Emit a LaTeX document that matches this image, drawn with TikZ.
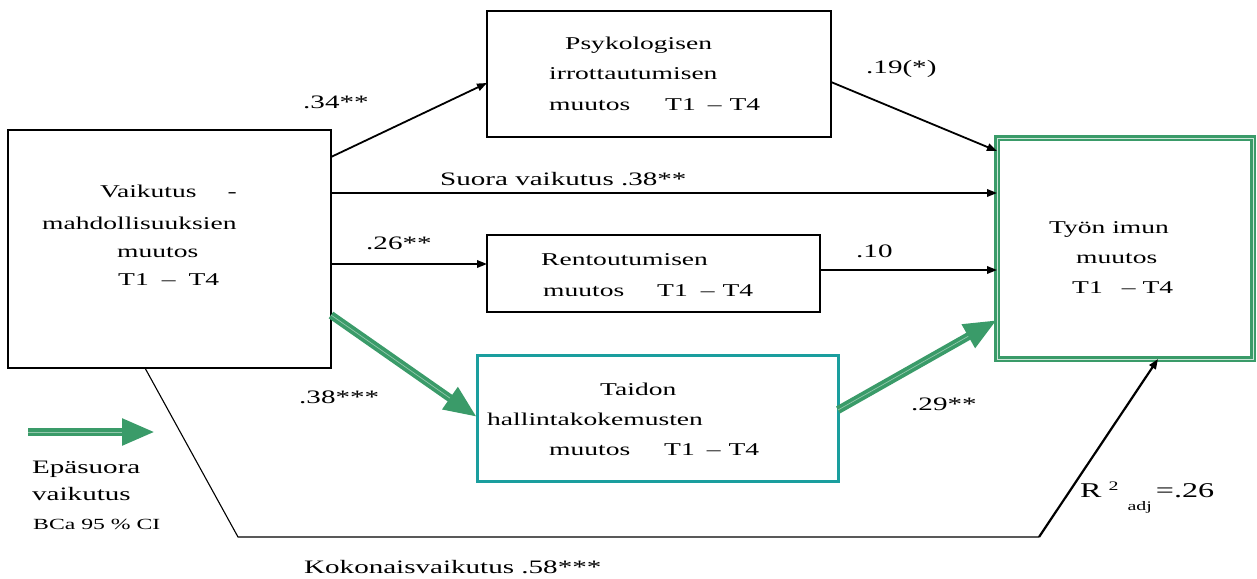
\documentclass[tikz,border=0pt]{standalone}
\usepackage{fontspec}
\setmainfont{Liberation Serif}[FakeStretch=1.53]
\usetikzlibrary{arrows.meta}
\definecolor{pathgreen}{RGB}{58,155,105}
\definecolor{boxteal}{RGB}{26,158,158}

\begin{document}
\begin{tikzpicture}[x=1pt,y=-1pt,
  box/.style={draw=black,line width=1.3pt,inner sep=0pt,outer sep=0pt},
  tealbox/.style={draw=boxteal,line width=3pt,inner sep=0pt,outer sep=0pt},
  outbox/.style={draw=pathgreen,line width=2.6pt,double=pathgreen!25!white,double distance=1pt,inner sep=0pt,outer sep=0pt},
  boxtxt/.style={anchor=base west,inner sep=0pt,font=\fontsize{18}{18}\selectfont},
  coef/.style={anchor=base west,inner sep=0pt,font=\fontsize{19}{19}\selectfont},
  small/.style={anchor=base west,inner sep=0pt,font=\fontsize{15.5}{15.5}\selectfont},
  arr/.style={line width=1.8pt,-{Triangle[length=10pt,width=7.5pt]}},
  indirect/.style={line width=8pt,draw=pathgreen,-{Triangle[length=33pt,width=25pt]}},
  core/.style={line width=0.7pt,draw=pathgreen!55!white,shorten >=33pt}
]
\useasboundingbox (0,0) rectangle (1257,578);
\fill[white] (0,0) rectangle (1257,578);

% boxes
\node[box,minimum width=323pt,minimum height=238pt] (vm) at (169.5,249) {};
\node[box,minimum width=344pt,minimum height=126pt] (psy) at (659,74) {};
\node[box,minimum width=333pt,minimum height=77pt] (ren) at (653.5,273.5) {};
\node[tealbox,minimum width=361pt,minimum height=126pt] (taid) at (657.5,418) {};
\node[outbox,minimum width=256pt,minimum height=221pt] (tyo) at (1125,248.5) {};

% box texts
\node[boxtxt] (vm1) at (100,197) {Vaikutus\hspace{31pt}-};
\node[boxtxt] (vm2) at (42,229) {mahdollisuuksien};
\node[boxtxt] (vm3) at (117,257) {muutos};
\node[boxtxt] (vm4) at (118,285) {T1\hspace{13pt}–\hspace{13pt}T4};

\node[boxtxt] (psy1) at (565,50) {Psykologisen};
\node[boxtxt] (psy2) at (549,79) {irrottautumisen};
\node[boxtxt] (psy3) at (549,110) {muutos};
\node[boxtxt] (psy4) at (665,110) {T1\hspace{12pt}–\hspace{8pt}T4};

\node[boxtxt] (ren1) at (541,265) {Rentoutumisen};
\node[boxtxt] (ren2) at (543,296) {muutos};
\node[boxtxt] (ren3) at (657,296) {T1\hspace{13pt}–\hspace{8pt}T4};

\node[boxtxt] (taid1) at (600,395) {Taidon};
\node[boxtxt] (taid2) at (487,425) {hallintakokemusten};
\node[boxtxt] (taid3) at (549,455) {muutos};
\node[boxtxt] (taid4) at (664,455) {T1\hspace{12pt}–\hspace{8pt}T4};

\node[boxtxt] (tyo1) at (1049,233) {Työn imun};
\node[boxtxt] (tyo2) at (1076,263) {muutos};
\node[boxtxt] (tyo3) at (1072,293) {T1\hspace{19pt}–\hspace{7pt}T4};

% direct paths
\draw[arr] (vm.east |- 0,157) -- (psy.west |- 0,83);
\draw[arr] (vm.east |- 0,193) -- (tyo.west |- 0,193);
\draw[arr] (vm.east |- 0,264) -- (ren.west |- 0,264);
\draw[arr] (psy.east |- 0,82) -- (tyo.west |- 0,151);
\draw[arr] (ren.east |- 0,270) -- (tyo.west |- 0,270);

% indirect path
\draw[indirect] (vm.east |- 0,315) -- (taid.west |- 0,417);
\draw[core] (vm.east |- 0,315) -- (taid.west |- 0,417);
\draw[indirect] (taid.east |- 0,410) -- (tyo.west |- 0,320);
\draw[core] (taid.east |- 0,410) -- (tyo.west |- 0,320);

% total effect
\coordinate (c1) at (238,537);
\coordinate (c2) at (1039,537);
\draw[line width=1.1pt] (vm.south -| 145,0) -- (c1) -- (c2);
\draw[arr,line width=2.2pt] (c2) -- (tyo.south -| 1158,0);

% coefficients
\node[coef] (k34) at (303,108) {.34**};
\node[coef] (k19) at (866,74) {.19(*)};
\node[coef] (kdir) at (440,185) {Suora vaikutus .38**};
\node[coef] (k26) at (366,249) {.26**};
\node[coef] (k10) at (856,257) {.10};
\node[coef] (k38) at (299,403) {.38***};
\node[coef] (k29) at (911,410) {.29**};
\node[coef] (ktot) at (304,573) {Kokonaisvaikutus .58***};
\node[anchor=base west,inner sep=0pt,font=\fontsize{21}{21}\selectfont] (r2) at (1080,497)
  {R\hspace{7pt}\raisebox{7pt}{\fontsize{13}{13}\selectfont 2}\hspace{9pt}\raisebox{-13pt}{\fontsize{13}{13}\selectfont adj}\hspace{4pt}=.26};

% legend
\coordinate (lg1) at (28,432);
\coordinate (lg2) at (155,432);
\draw[indirect] (lg1) -- (lg2);
\draw[core] (lg1) -- (lg2);
\node[coef] (lgt1) at (32,473) {Epäsuora};
\node[coef] (lgt2) at (32,500) {vaikutus};
\node[small] (lgt3) at (33,529) {BCa 95 \% CI};
\end{tikzpicture}
\end{document}
